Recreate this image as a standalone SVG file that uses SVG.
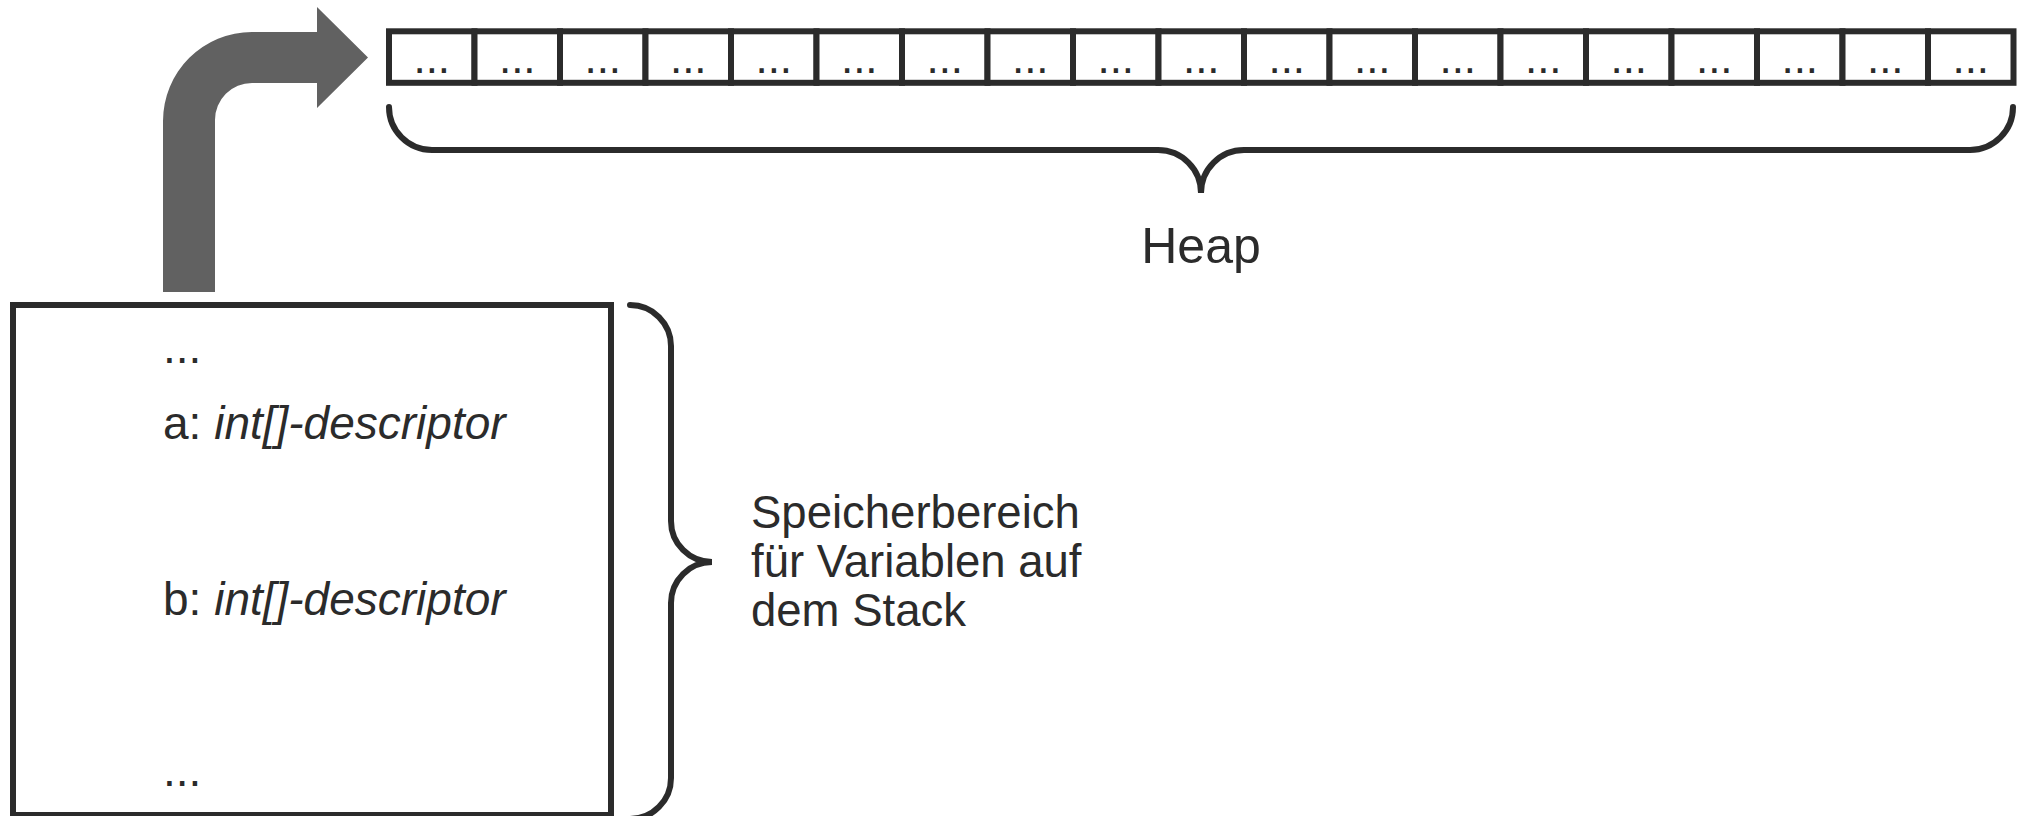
<svg xmlns="http://www.w3.org/2000/svg" width="2022" height="816" viewBox="0 0 2022 816">
<style>
  .ln { fill: none; stroke: #2b2b2b; stroke-width: 6; }
  .brace { fill: none; stroke: #2b2b2b; stroke-width: 6; stroke-linecap: round; }
  .cell { fill: #ffffff; stroke: #2b2b2b; stroke-width: 6; }
  .t { font-family: "Liberation Sans", Arial, sans-serif; fill: #2b2b2b; }
  .dots { font-family: "Liberation Sans", Arial, sans-serif; fill: #2b2b2b; font-size: 44px; text-anchor: middle; }
  .it { font-style: italic; }
</style>
<rect width="2022" height="816" fill="#ffffff"/>

<g id="connectors">
  <path id="pointer-arrow" fill="#616161" d="M 163,292 L 163,121 A 89,89 0 0 1 252,32 L 317,32 L 317,7 L 368,57.5 L 317,108 L 317,83 L 252,83 A 37,37 0 0 0 215,120 L 215,292 Z"/>
  <path id="heap-brace" class="brace" d="M 389,107 A 43,43 0 0 0 432,150 L 1158,150 A 43,43 0 0 1 1201,193 A 43,43 0 0 1 1244,150 L 1970,150 A 43,43 0 0 0 2013,107"/>
  <path id="stack-brace" class="brace" d="M 630,305 A 41,41 0 0 1 671,346 L 671,521 A 41,41 0 0 0 712,562 A 41,41 0 0 0 671,603 L 671,778 A 41,41 0 0 1 630,819"/>
</g>

<g id="heap">
  <g id="cell-1"><rect class="cell" x="389" y="31.3" width="85.5" height="51.5"/><text class="dots" x="431.75" y="72.5">...</text></g>
  <g id="cell-2"><rect class="cell" x="474.5" y="31.3" width="85.5" height="51.5"/><text class="dots" x="517.25" y="72.5">...</text></g>
  <g id="cell-3"><rect class="cell" x="560" y="31.3" width="85.5" height="51.5"/><text class="dots" x="602.75" y="72.5">...</text></g>
  <g id="cell-4"><rect class="cell" x="645.5" y="31.3" width="85.5" height="51.5"/><text class="dots" x="688.25" y="72.5">...</text></g>
  <g id="cell-5"><rect class="cell" x="731" y="31.3" width="85.5" height="51.5"/><text class="dots" x="773.75" y="72.5">...</text></g>
  <g id="cell-6"><rect class="cell" x="816.5" y="31.3" width="85.5" height="51.5"/><text class="dots" x="859.25" y="72.5">...</text></g>
  <g id="cell-7"><rect class="cell" x="902" y="31.3" width="85.5" height="51.5"/><text class="dots" x="944.75" y="72.5">...</text></g>
  <g id="cell-8"><rect class="cell" x="987.5" y="31.3" width="85.5" height="51.5"/><text class="dots" x="1030.25" y="72.5">...</text></g>
  <g id="cell-9"><rect class="cell" x="1073" y="31.3" width="85.5" height="51.5"/><text class="dots" x="1115.75" y="72.5">...</text></g>
  <g id="cell-10"><rect class="cell" x="1158.5" y="31.3" width="85.5" height="51.5"/><text class="dots" x="1201.25" y="72.5">...</text></g>
  <g id="cell-11"><rect class="cell" x="1244" y="31.3" width="85.5" height="51.5"/><text class="dots" x="1286.75" y="72.5">...</text></g>
  <g id="cell-12"><rect class="cell" x="1329.5" y="31.3" width="85.5" height="51.5"/><text class="dots" x="1372.25" y="72.5">...</text></g>
  <g id="cell-13"><rect class="cell" x="1415" y="31.3" width="85.5" height="51.5"/><text class="dots" x="1457.75" y="72.5">...</text></g>
  <g id="cell-14"><rect class="cell" x="1500.5" y="31.3" width="85.5" height="51.5"/><text class="dots" x="1543.25" y="72.5">...</text></g>
  <g id="cell-15"><rect class="cell" x="1586" y="31.3" width="85.5" height="51.5"/><text class="dots" x="1628.75" y="72.5">...</text></g>
  <g id="cell-16"><rect class="cell" x="1671.5" y="31.3" width="85.5" height="51.5"/><text class="dots" x="1714.25" y="72.5">...</text></g>
  <g id="cell-17"><rect class="cell" x="1757" y="31.3" width="85.5" height="51.5"/><text class="dots" x="1799.75" y="72.5">...</text></g>
  <g id="cell-18"><rect class="cell" x="1842.5" y="31.3" width="85.5" height="51.5"/><text class="dots" x="1885.25" y="72.5">...</text></g>
  <g id="cell-19"><rect class="cell" x="1928" y="31.3" width="85.5" height="51.5"/><text class="dots" x="1970.75" y="72.5">...</text></g>
</g>

<g id="heap-label">
  <text class="t" x="1201" y="263" font-size="50" text-anchor="middle">Heap</text>
</g>

<g id="stack">
  <rect class="ln" x="13" y="305" width="598" height="510"/>
  <text class="t" x="163" y="363" font-size="46">...</text>
  <text class="t" x="163" y="439" font-size="46">a: <tspan class="it">int[]-descriptor</tspan></text>
  <text class="t" x="163" y="615" font-size="46">b: <tspan class="it">int[]-descriptor</tspan></text>
  <text class="t" x="163" y="786" font-size="46">...</text>
</g>

<g id="stack-label">
  <text class="t" font-size="45.5"><tspan x="751" y="528">Speicherbereich</tspan><tspan x="751" y="577">für Variablen auf</tspan><tspan x="751" y="626">dem Stack</tspan></text>
</g>
</svg>
